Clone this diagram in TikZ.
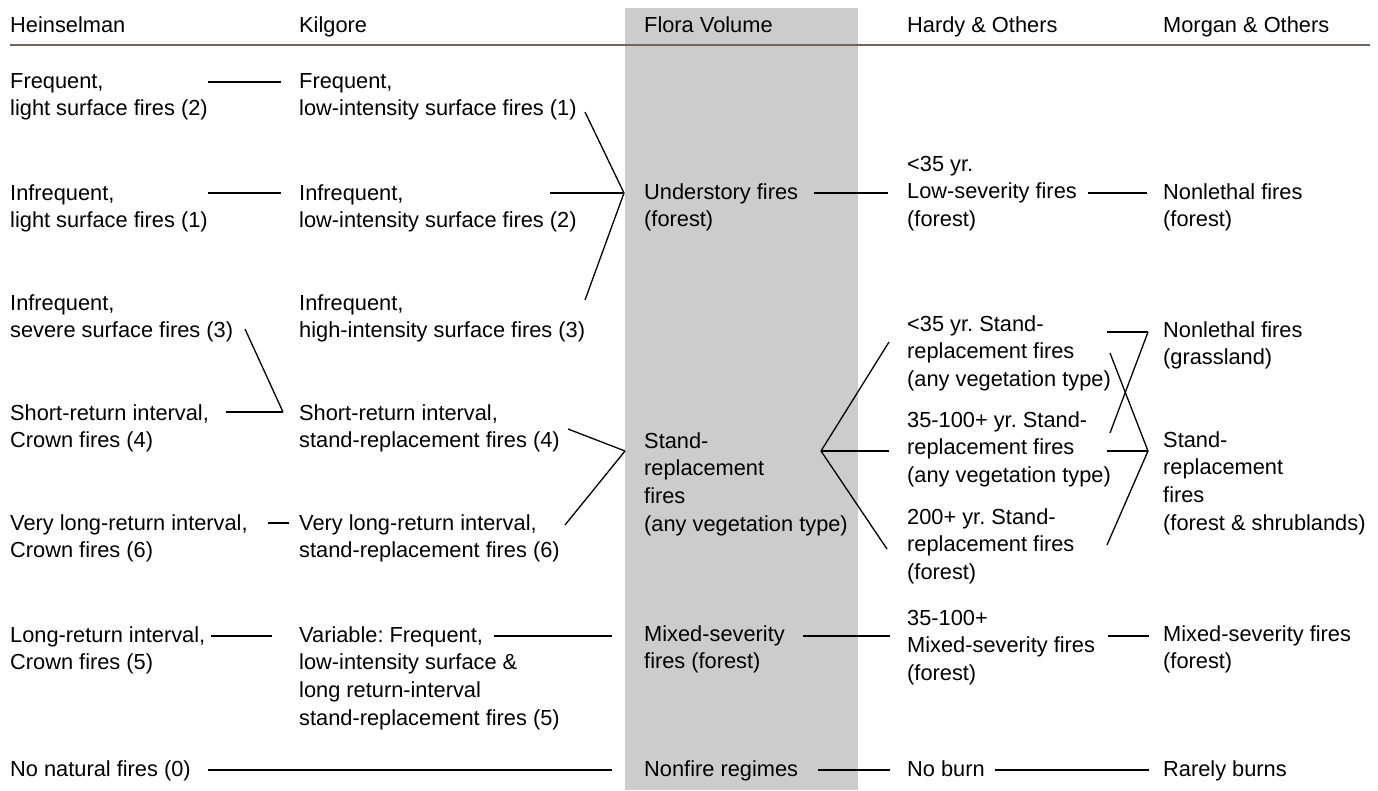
\documentclass[tikz,border=0pt]{standalone}
\usepackage{fontspec}
\setmainfont{Liberation Sans}
\frenchspacing
\newcommand{\mytab}[1]{\begin{tabular}[t]{@{}l@{}}#1\end{tabular}}
\definecolor{bandgray}{RGB}{204,204,204}
\definecolor{rulebrown}{RGB}{112,100,92}
\begin{document}
\begin{tikzpicture}[x=1pt,y=-1pt,
  txt/.style={anchor=base west, inner sep=0pt, font=\fontsize{21.8}{27.8}\selectfont\frenchspacing},
  conn/.style={line width=1.3pt, black},
  hrule/.style={line width=1.8pt, rulebrown}]
\useasboundingbox (0,0) rectangle (1378,790);
\fill[bandgray] (625,8) rectangle (858,790);
\coordinate (rl) at (10,45); \coordinate (rr) at (1370,45);
\draw[hrule] (rl) -- (rr);

% headers
\node[txt] (hH) at (10,32) {Heinselman};
\node[txt] (hK) at (299,32) {Kilgore};
\node[txt] (hF) at (644,32) {Flora Volume};
\node[txt] (hD) at (907,32) {Hardy \& Others};
\node[txt] (hM) at (1163,32) {Morgan \& Others};

% Heinselman
\node[txt] (H1) at (10,88) {\mytab{Frequent,\\light surface fires (2)}};
\node[txt] (H2) at (10,200) {\mytab{Infrequent,\\light surface fires (1)}};
\node[txt] (H3) at (10,310) {\mytab{Infrequent,\\severe surface fires (3)}};
\node[txt] (H4) at (10,420) {\mytab{Short-return interval,\\Crown fires (4)}};
\node[txt] (H5) at (10,530) {\mytab{Very long-return interval,\\Crown fires (6)}};
\node[txt] (H6) at (10,642) {\mytab{Long-return interval,\\Crown fires (5)}};
\node[txt] (H7) at (10,776) {No natural fires (0)};

% Kilgore
\node[txt] (K1) at (299,88) {\mytab{Frequent,\\low-intensity surface fires (1)}};
\node[txt] (K2) at (299,200) {\mytab{Infrequent,\\low-intensity surface fires (2)}};
\node[txt] (K3) at (299,310) {\mytab{Infrequent,\\high-intensity surface fires (3)}};
\node[txt] (K4) at (299,420) {\mytab{Short-return interval,\\stand-replacement fires (4)}};
\node[txt] (K5) at (299,530) {\mytab{Very long-return interval,\\stand-replacement fires (6)}};
\node[txt] (K6) at (299,642) {\mytab{Variable: Frequent,\\low-intensity surface \&\\long return-interval\\stand-replacement fires (5)}};

% Flora Volume
\node[txt] (F1) at (644,199) {\mytab{Understory fires\\(forest)}};
\node[txt] (F2) at (644,448) {\mytab{Stand-\\replacement\\fires\\(any vegetation type)}};
\node[txt] (F3) at (644,641) {\mytab{Mixed-severity\\fires (forest)}};
\node[txt] (F4) at (644,776) {Nonfire regimes};

% Hardy & Others
\node[txt] (D1) at (907,171) {\mytab{<35 yr.\\Low-severity fires\\(forest)}};
\node[txt] (D2) at (907,331) {\mytab{<35 yr. Stand-\\replacement fires\\(any vegetation type)}};
\node[txt] (D3) at (907,427) {\mytab{35-100+ yr. Stand-\\replacement fires\\(any vegetation type)}};
\node[txt] (D4) at (907,524) {\mytab{200+ yr. Stand-\\replacement fires\\(forest)}};
\node[txt] (D5) at (907,625) {\mytab{35-100+\\Mixed-severity fires\\(forest)}};
\node[txt] (D6) at (907,776) {No burn};

% Morgan & Others
\node[txt] (M1) at (1163,199) {\mytab{Nonlethal fires\\(forest)}};
\node[txt] (M2) at (1163,337) {\mytab{Nonlethal fires\\(grassland)}};
\node[txt] (M3) at (1163,447) {\mytab{Stand-\\replacement\\fires\\(forest \& shrublands)}};
\node[txt] (M4) at (1163,641) {\mytab{Mixed-severity fires\\(forest)}};
\node[txt] (M5) at (1163,776) {Rarely burns};

% connector points
\coordinate (h1e) at (208,82);  \coordinate (k1w) at (281,82);
\coordinate (h2e) at (208,193); \coordinate (k2w) at (281,193);
\coordinate (h3e) at (245,329); \coordinate (k4w) at (283,412);
\coordinate (h4e) at (226,412);
\coordinate (h5e) at (268,523); \coordinate (k5w) at (289,523);
\coordinate (h6e) at (211,636); \coordinate (k6w) at (272,636);
\coordinate (h7e) at (208,770); \coordinate (f4w) at (612,770);
\coordinate (k1e) at (585,112); \coordinate (k2e) at (550,193); \coordinate (k3e) at (585,300);
\coordinate (f1w) at (624,193);
\coordinate (k4e) at (568,429); \coordinate (k5e) at (565,525);
\coordinate (f2w) at (625,451);
\coordinate (k6e) at (494,636); \coordinate (f3w) at (612,636);
\coordinate (f1e) at (814,193); \coordinate (d1w) at (888,193);
\coordinate (d1e) at (1088,193); \coordinate (m1w) at (1147,193);
\coordinate (f2e) at (821,451);
\coordinate (d2w) at (889,342); \coordinate (d3w) at (889,451); \coordinate (d4w) at (887,549);
\coordinate (d2e) at (1107,332); \coordinate (m2w) at (1148,332);
\coordinate (d3u) at (1110,433); \coordinate (d2l) at (1110,353);
\coordinate (d3e) at (1107,451); \coordinate (m3w) at (1148,451);
\coordinate (d4e) at (1107,545);
\coordinate (f3e) at (803,636); \coordinate (d5w) at (890,636);
\coordinate (d5e) at (1108,636); \coordinate (m4w) at (1149,636);
\coordinate (f4e) at (818,770); \coordinate (d6w) at (890,770);
\coordinate (d6e) at (995,770); \coordinate (m5w) at (1149,770);

% connectors
\draw[conn] (h1e) -- (k1w);
\draw[conn] (h2e) -- (k2w);
\draw[conn] (h3e) -- (k4w);
\draw[conn] (h4e) -- (k4w);
\draw[conn] (h5e) -- (k5w);
\draw[conn] (h6e) -- (k6w);
\draw[conn] (h7e) -- (f4w);
\draw[conn] (k1e) -- (f1w);
\draw[conn] (k2e) -- (f1w);
\draw[conn] (k3e) -- (f1w);
\draw[conn] (k4e) -- (f2w);
\draw[conn] (k5e) -- (f2w);
\draw[conn] (k6e) -- (f3w);
\draw[conn] (f1e) -- (d1w);
\draw[conn] (d1e) -- (m1w);
\draw[conn] (f2e) -- (d2w);
\draw[conn] (f2e) -- (d3w);
\draw[conn] (f2e) -- (d4w);
\draw[conn] (d2e) -- (m2w);
\draw[conn] (m2w) -- (d3u);
\draw[conn] (d2l) -- (m3w);
\draw[conn] (d3e) -- (m3w);
\draw[conn] (d4e) -- (m3w);
\draw[conn] (f3e) -- (d5w);
\draw[conn] (d5e) -- (m4w);
\draw[conn] (f4e) -- (d6w);
\draw[conn] (d6e) -- (m5w);
\end{tikzpicture}
\end{document}
